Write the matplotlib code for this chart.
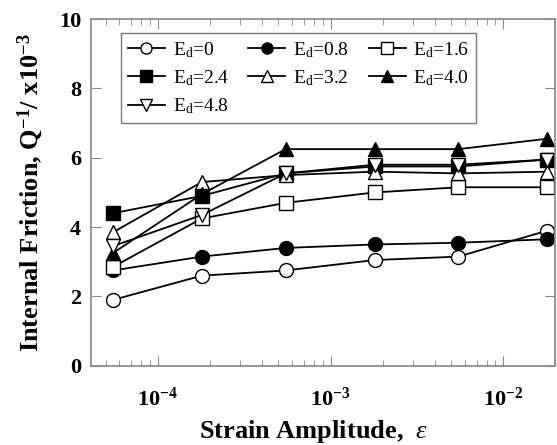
import matplotlib
matplotlib.use("Agg")
import math
import matplotlib.pyplot as plt
from matplotlib.ticker import FuncFormatter

plt.rcParams['font.family'] = ['Liberation Serif', 'DejaVu Serif']
plt.rcParams['mathtext.fontset'] = 'custom'
plt.rcParams['mathtext.rm'] = 'Liberation Serif'
plt.rcParams['mathtext.it'] = 'Liberation Serif:italic'
plt.rcParams['mathtext.bf'] = 'Liberation Serif:bold'

strain = [5.5e-5, 1.8e-4, 5.5e-4, 1.8e-3, 5.5e-3, 1.8e-2]

ed_0 = [1.9, 2.6, 2.75, 3.05, 3.15, 3.9]
ed_08 = [2.75, 3.15, 3.4, 3.5, 3.55, 3.65]
ed_16 = [2.85, 4.25, 4.7, 5.0, 5.15, 5.15]
ed_24 = [4.4, 4.9, 5.55, 5.75, 5.75, 5.95]
ed_32 = [3.85, 5.3, 5.5, 5.6, 5.55, 5.6]
ed_40 = [3.25, 4.95, 6.25, 6.25, 6.25, 6.55]
ed_48 = [3.45, 4.35, 5.55, 5.8, 5.8, 5.95]

labels = ["0", "0.8", "1.6", "2.4", "3.2", "4.0", "4.8"]


def log_fmt(x, p):
    e = int(round(math.log10(x)))
    return r'$\mathbf{10^{%d}}$' % e


def main():
    fig = plt.figure(figsize=(5.57, 4.45), dpi=100)
    ax = fig.add_axes([0.163, 0.178, 0.834, 0.779])

    series = [ed_0, ed_08, ed_16, ed_24, ed_32, ed_40, ed_48]
    markers = ['o', 'o', 's', 's', '^', '^', 'v']
    fills = ['white', 'black', 'white', 'black', 'white', 'black', 'white']

    for ys, m, fc, lab in zip(series, markers, fills, labels):
        ax.plot(strain, ys, color='black', lw=1.3, marker=m, markersize=10,
                markerfacecolor=fc, markeredgecolor='black', markeredgewidth=1.0,
                label=r'E$_{\mathrm{d}}$=' + lab)

    ax.set_xscale('log')
    ax.set_xlim(4.1e-5, 2.0e-2)
    ax.set_ylim(0, 10)
    ax.set_yticks([0, 2, 4, 6, 8, 10])
    ax.xaxis.set_major_formatter(FuncFormatter(log_fmt))

    ax.tick_params(which='both', direction='in', top=True, right=True,
                   color='#888888')
    ax.tick_params(which='major', length=7, labelsize=16)
    ax.tick_params(which='minor', length=4)
    for lbl in ax.get_yticklabels():
        lbl.set_fontweight('bold')
    ax.tick_params(axis='x', pad=16)
    ax.tick_params(axis='y', pad=7)
    for s in ax.spines.values():
        s.set_color('#888888')
        s.set_linewidth(1.2)

    ax.set_xlabel(r'Strain Amplitude,  $\varepsilon$', fontsize=19,
                  fontweight='bold')
    ax.xaxis.set_label_coords(0.48, -0.15)
    ax.set_ylabel(r'Internal Friction, Q$^{\mathbf{-1}}$/ x10$^{\mathbf{-3}}$',
                  fontsize=19, fontweight='bold')
    ax.yaxis.set_label_coords(-0.099, 0.5)

    handles, labs = ax.get_legend_handles_labels()
    order = [0, 3, 6, 1, 4, 2, 5]
    leg = ax.legend([handles[i] for i in order], [labs[i] for i in order],
                    ncol=3, loc='upper left', bbox_to_anchor=(0.065, 0.96),
                    fontsize=14, frameon=True, fancybox=False,
                    handlelength=1.9, handletextpad=0.4, columnspacing=1.0,
                    labelspacing=0.45, borderpad=0.35, borderaxespad=0)
    leg.get_frame().set_edgecolor('#555555')
    leg.get_frame().set_linewidth(1.0)
    for h in leg.legend_handles:
        h.set_markersize(8)

    fig.savefig("out.png", dpi=100)


if __name__ == '__main__':
    main()
